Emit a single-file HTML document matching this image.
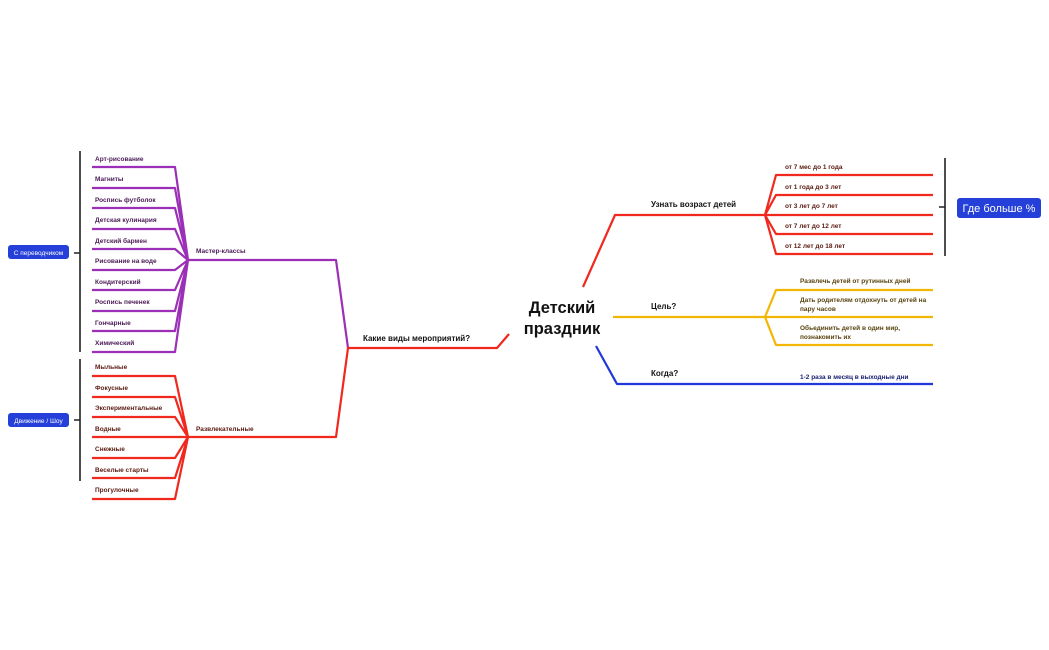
<!DOCTYPE html>
<html><head><meta charset="utf-8"><style>
body{margin:0;background:#fff;width:1049px;height:650px;overflow:hidden;font-family:"Liberation Sans",sans-serif}
svg{position:absolute;left:0;top:0}
text{font-family:"Liberation Sans",sans-serif;font-weight:bold}
text.n{font-weight:normal}
</style></head><body>
<svg width="1049" height="650" viewBox="0 0 1049 650">
<g fill="none" stroke-width="2.2" stroke-linejoin="round">
<g stroke="#9b2fb5">
<path d="M92 167H175L188 260M92 188H175L188 260M92 208H175L188 260M92 229H175L188 260M92 249H175L188 260M92 270H175L188 260M92 290H175L188 260M92 311H175L188 260M92 331H175L188 260M92 352H175L188 260"/>
<path d="M188 260H336L348 348"/>
</g>
<g stroke="#f0281e">
<path d="M92 376H175L188 437M92 397H175L188 437M92 417H175L188 437M92 437H188M92 458H175L188 437M92 478H175L188 437M92 499H175L188 437"/>
<path d="M188 437H336L348 348H497L509 334"/>
<path d="M583 287L615 215H765M765 215L776 175H933M765 215L776 195H933M765 215H933M765 215L776 234H933M765 215L776 254H933"/>
</g>
<g stroke="#f2b705">
<path d="M613 317H933M765 317L776 290H933M765 317L776 345H933"/>
</g>
<g stroke="#2038d8"><path d="M596 346L617 384H933"/></g>
<g stroke="#222" stroke-width="1.6">
<path d="M80 151V352M74 253H80M80 359V481M74 420H80M945 158V256M939 207H945"/>
</g>
</g>
<rect x="8" y="245" width="61" height="14" rx="3" fill="#2440d8"/>
<text class="n" x="38.5" y="255" font-size="6.5" fill="#fff" text-anchor="middle">С переводчиком</text>
<rect x="8" y="413" width="61" height="14" rx="3" fill="#2440d8"/>
<text class="n" x="38.5" y="423" font-size="6.5" fill="#fff" text-anchor="middle">Движение / Шоу</text>
<rect x="957" y="198" width="84" height="20" rx="3" fill="#2440d8"/>
<text class="n" x="999" y="212" font-size="11" fill="#fff" text-anchor="middle">Где больше %</text>
<g font-size="6.5" fill="#4a1a55">
<text x="95" y="161">Арт-рисование</text><text x="95" y="181">Магниты</text><text x="95" y="202">Роспись футболок</text><text x="95" y="222">Детская кулинария</text><text x="95" y="243">Детский бармен</text><text x="95" y="263">Рисование на воде</text><text x="95" y="284">Кондитерский</text><text x="95" y="304">Роспись печенек</text><text x="95" y="325">Гончарные</text><text x="95" y="345">Химический</text>
<text x="196" y="253">Мастер-классы</text>
</g>
<g font-size="6.5" fill="#5a1a10">
<text x="95" y="369">Мыльные</text><text x="95" y="390">Фокусные</text><text x="95" y="410">Экспериментальные</text><text x="95" y="431">Водные</text><text x="95" y="451">Снежные</text><text x="95" y="472">Веселые старты</text><text x="95" y="492">Прогулочные</text>
<text x="196" y="431">Развлекательные</text>
<text x="785" y="169">от 7 мес до 1 года</text><text x="785" y="189">от 1 года до 3 лет</text><text x="785" y="208">от 3 лет до 7 лет</text><text x="785" y="228">от 7 лет до 12 лет</text><text x="785" y="248">от 12 лет до 18 лет</text>
</g>
<g font-size="6.5" fill="#5a4410">
<text x="800" y="283">Развлечь детей от рутинных дней</text>
<text x="800" y="302">Дать родителям отдохнуть от детей на</text><text x="800" y="311">пару часов</text>
<text x="800" y="330">Обьединить детей в один мир,</text><text x="800" y="339">познакомить их</text>
</g>
<text x="800" y="379" font-size="6.5" fill="#1a2070">1-2 раза в месяц в выходные дни</text>
<g font-size="8" fill="#111">
<text x="363" y="341">Какие виды мероприятий?</text>
<text x="651" y="207">Узнать возраст детей</text>
<text x="651" y="309">Цель?</text>
<text x="651" y="376">Когда?</text>
</g>
<text x="562" y="313" font-size="16.5" fill="#111" text-anchor="middle">Детский</text>
<text x="562" y="334" font-size="16.5" fill="#111" text-anchor="middle">праздник</text>
</svg>
</body></html>
